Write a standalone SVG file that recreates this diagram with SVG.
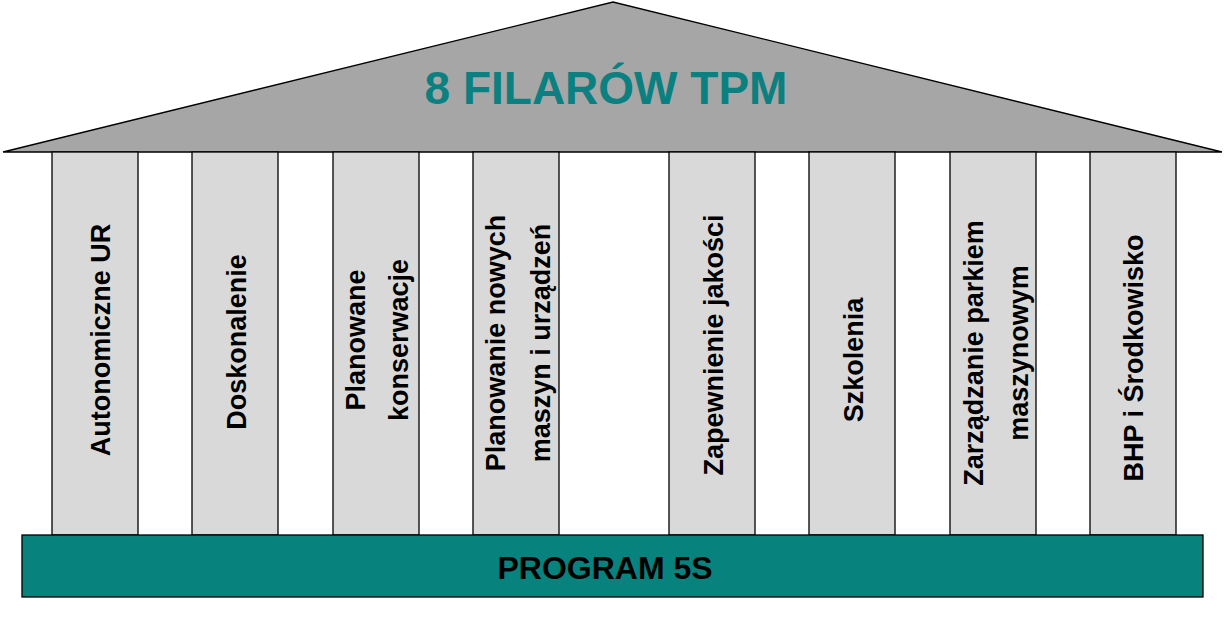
<svg xmlns="http://www.w3.org/2000/svg" width="1226" height="618" viewBox="0 0 1226 618">
<style>
.p{fill:#d9d9d9;stroke:#000;stroke-width:1.3}
.t{font-family:"Liberation Sans",Arial,sans-serif;font-weight:bold;font-size:27px;fill:#000;text-anchor:middle}
</style>
<rect width="1226" height="618" fill="#fff"/>
<g id="roof"><polygon points="3,152 613,2 1222,152" fill="#a6a6a6" stroke="#000" stroke-width="1.3"/>
<text x="606" y="104" style="font-family:'Liberation Sans',Arial,sans-serif;font-weight:bold;font-size:46px;fill:#0a8080;text-anchor:middle">8 FILARÓW TPM</text></g>
<g id="p1"><rect class="p" x="52" y="152" width="86" height="383"/><text class="t" transform="translate(110,340) rotate(-90)">Autonomiczne UR</text></g>
<g id="p2"><rect class="p" x="192" y="152" width="86" height="383"/><text class="t" transform="translate(246,342) rotate(-90)">Doskonalenie</text></g>
<g id="p3"><rect class="p" x="333" y="152" width="86" height="383"/><text class="t" transform="translate(365,340) rotate(-90)">Planowane</text><text class="t" transform="translate(408,340) rotate(-90)">konserwacje</text></g>
<g id="p4"><rect class="p" x="473" y="152" width="86" height="383"/><text class="t" transform="translate(505,343) rotate(-90)">Planowanie nowych</text><text class="t" transform="translate(550,343) rotate(-90)">maszyn i urządzeń</text></g>
<g id="p5"><rect class="p" x="669" y="152" width="86" height="383"/><text class="t" transform="translate(723,345) rotate(-90)">Zapewnienie jakości</text></g>
<g id="p6"><rect class="p" x="809" y="152" width="86" height="383"/><text class="t" transform="translate(863,360) rotate(-90)">Szkolenia</text></g>
<g id="p7"><rect class="p" x="950" y="152" width="86" height="383"/><text class="t" transform="translate(983,353) rotate(-90)">Zarządzanie parkiem</text><text class="t" transform="translate(1028,353) rotate(-90)">maszynowym</text></g>
<g id="p8"><rect class="p" x="1090" y="152" width="86" height="383"/><text class="t" transform="translate(1143,358) rotate(-90)">BHP i Środkowisko</text></g>
<g id="base"><rect x="22" y="535" width="1181" height="62" fill="#08827c" stroke="#000" stroke-width="1.3"/>
<text x="605" y="579" style="font-family:'Liberation Sans',Arial,sans-serif;font-weight:bold;font-size:32px;fill:#000;text-anchor:middle">PROGRAM 5S</text></g>
<g id="connectors"/>
</svg>
